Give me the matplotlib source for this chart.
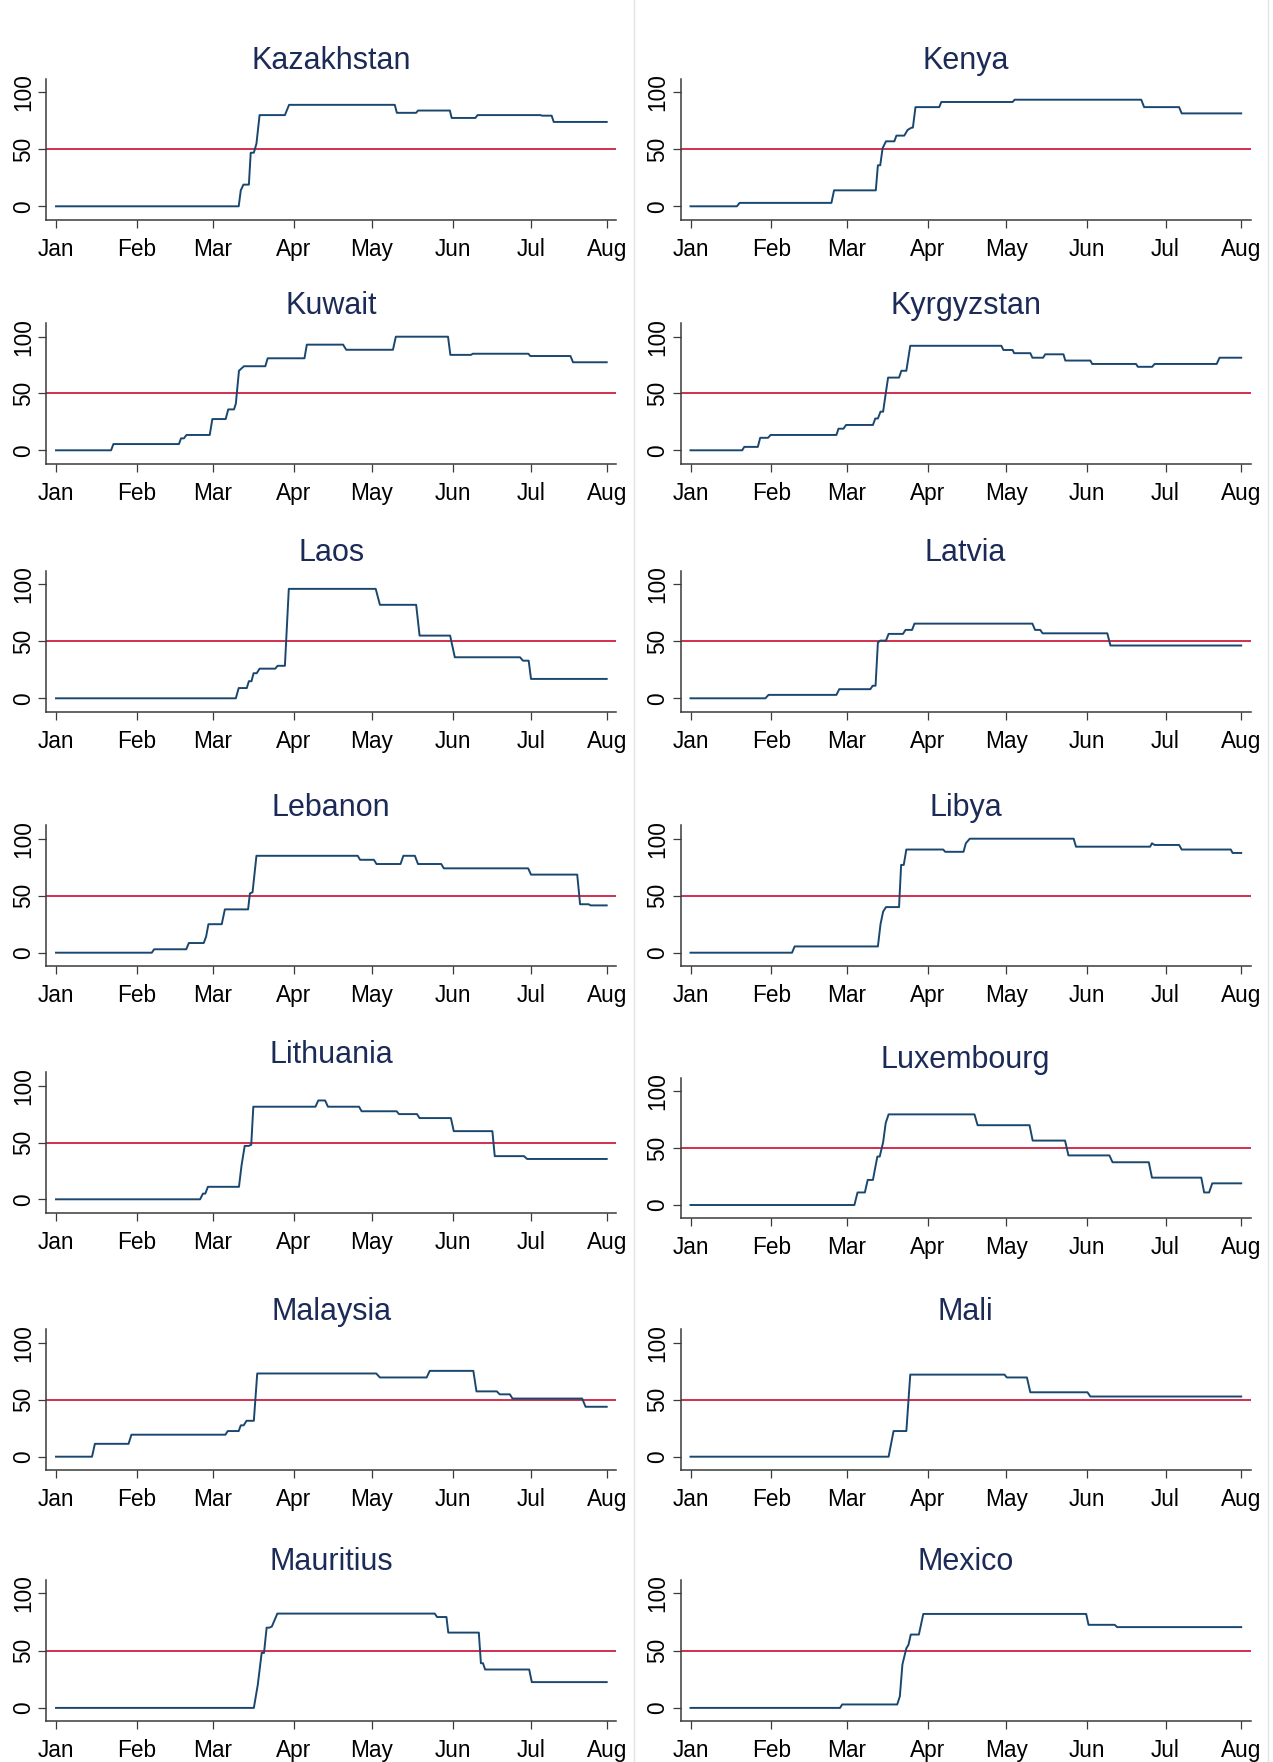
import numpy as np
import matplotlib
matplotlib.use("Agg")
import matplotlib.pyplot as plt
from matplotlib.lines import Line2D

plt.rcParams['font.family'] = ['Liberation Sans', 'DejaVu Sans']

# day offsets from 1 Jan 2020 and index values (vertices)
kaz_days = [0, 70.0, 70.8, 71.8, 73.9, 74.6, 75.8, 76.8, 78.0, 87.7, 89.3, 129.8, 130.6, 138.0, 138.7, 150.9, 151.6, 160.7, 161.5, 185.6, 186.2, 189.9, 190.7, 211]
kaz_vals = [0, 0, 14, 19, 19, 47, 47, 55, 80, 80, 89, 89, 82, 82, 84, 84, 77.5, 77.5, 80, 80, 79.5, 79.5, 74, 74]

ken_days = [0, 17.8, 18.8, 54.0, 55.0, 71.0, 71.8, 72.7, 73.6, 74.9, 78.1, 78.9, 81.9, 83.2, 84.7, 85.2, 86.2, 95.3, 96.1, 123.4, 124.2, 172.7, 173.8, 187.2, 188.2, 211]
ken_vals = [0, 0, 3, 3, 14, 14, 36, 36, 51, 57, 57, 62, 62, 67, 69, 69, 87, 87, 91.5, 91.5, 93.5, 93.5, 87, 87, 81.5, 81.5]

kuw_days = [0, 21.1, 22.0, 47.1, 47.9, 49.0, 50.0, 58.9, 59.9, 65.0, 66.0, 68.2, 68.9, 70.1, 72.0, 80.2, 81.1, 95.2, 96.1, 110.0, 111.2, 129.1, 130.2, 150.2, 151.1, 159.0, 159.7, 181.0, 181.7, 197.1, 198.1, 211]
kuw_vals = [0, 0, 5.5, 5.5, 10.5, 10.5, 13.5, 13.5, 27.5, 27.5, 36, 36, 41, 70, 74, 74, 81, 81, 93, 93, 88.5, 88.5, 100, 100, 84, 84, 85, 85, 83, 83, 77.5, 77.5]

kgz_days = [0, 19.8, 20.6, 25.8, 26.7, 29.7, 30.7, 55.9, 56.7, 58.6, 59.6, 69.9, 70.8, 71.8, 72.8, 73.8, 74.8, 75.7, 79.9, 80.8, 82.7, 84.2, 119.1, 119.9, 123.4, 124.0, 130.2, 131.0, 135.1, 135.9, 142.9, 143.6, 153.2, 153.9, 170.7, 171.4, 176.9, 177.8, 201.6, 202.7, 211]
kgz_vals = [0, 0, 3, 3, 11, 11, 13.5, 13.5, 19, 19, 22.3, 22.3, 28, 28, 34, 34, 50, 64, 64, 70, 70, 92, 92, 88.3, 88.3, 85.5, 85.5, 81.5, 81.5, 84.5, 84.5, 79, 79, 76, 76, 73.5, 73.5, 76, 76, 81.5, 81.5]

lao_days = [0, 68.9, 70.0, 73.1, 73.9, 74.9, 75.7, 76.9, 78.0, 84.0, 84.9, 87.7, 89.2, 122.5, 124.1, 138.0, 139.3, 151.0, 152.8, 177.8, 178.9, 181.1, 182.0, 211]
lao_vals = [0, 0, 9, 9, 15, 15, 22, 22, 26, 26, 28.5, 28.5, 96, 96, 82, 82, 55, 55, 36, 36, 33, 33, 17, 17]

lva_days = [0, 28.7, 29.9, 55.9, 57.0, 68.9, 69.8, 70.9, 71.8, 72.7, 74.9, 75.9, 81.4, 82.4, 84.9, 85.8, 131.0, 132.0, 134.0, 134.9, 159.7, 160.9, 211]
lva_vals = [0, 0, 3, 3, 8, 8, 11, 11, 49, 50.6, 50.6, 56.5, 56.5, 60, 60, 65.5, 65.5, 60, 60, 57, 57, 46.3, 46.3]

lbn_days = [0, 36.7, 37.6, 49.9, 50.9, 56.6, 57.5, 58.4, 63.5, 64.7, 73.6, 74.3, 75.3, 76.8, 115.6, 116.5, 121.8, 122.8, 132.0, 133.1, 137.5, 138.7, 147.6, 148.6, 180.9, 182.0, 199.7, 200.8, 204.1, 204.8, 211]
lbn_vals = [0, 0, 3, 3, 8.5, 8.5, 14, 25, 25, 38, 38, 52, 53, 85, 85, 81.5, 81.5, 77.8, 77.8, 85, 85, 77.8, 77.8, 74, 74, 68.5, 68.5, 42.5, 42.5, 41.5, 41.5]

lby_days = [0, 38.9, 39.9, 71.8, 72.8, 73.8, 74.9, 79.9, 80.7, 81.7, 82.7, 96.8, 97.6, 104.6, 105.5, 107.0, 146.8, 147.7, 176.1, 176.8, 177.8, 187.2, 188.2, 207.0, 207.7, 211]
lby_vals = [0, 0, 5.5, 5.5, 25, 36, 40, 40, 77, 77, 90.5, 90.5, 88.5, 88.5, 96, 100, 100, 93, 93, 96, 94.5, 94.5, 90.5, 90.5, 87.5, 87.5]

ltu_days = [0, 55.2, 56.3, 57.2, 58.2, 70.1, 71.1, 72.3, 73.8, 74.8, 75.6, 99.4, 100.5, 103.1, 104.2, 116.1, 117.1, 130.5, 131.4, 138.3, 139.3, 151.3, 152.4, 167.2, 168.1, 179.3, 180.5, 211]
ltu_vals = [0, 0, 5, 5, 11, 11, 30, 47, 47, 48, 81.5, 81.5, 87, 87, 81.5, 81.5, 77.5, 77.5, 75, 75, 71.5, 71.5, 60, 60, 38, 38, 35.5, 35.5]

lux_days = [0, 62.8, 64.0, 66.8, 67.9, 69.9, 70.8, 71.6, 72.5, 73.8, 74.8, 75.9, 108.8, 110.0, 129.9, 131.1, 143.5, 144.8, 160.5, 161.7, 175.6, 176.8, 195.7, 196.8, 198.7, 199.9, 211]
lux_vals = [0, 0, 11, 11, 22, 22, 33, 42.5, 42.5, 55, 72, 79.5, 79.5, 70, 70, 56.5, 56.5, 43.5, 43.5, 37.5, 37.5, 24, 24, 11, 11, 19, 19]

mys_days = [0, 13.8, 14.9, 27.8, 28.9, 64.9, 65.8, 70.0, 70.8, 71.9, 73.0, 75.8, 77.1, 122.7, 124.1, 142.0, 143.2, 159.9, 161.1, 168.9, 170.0, 173.9, 174.9, 201.6, 202.9, 211]
mys_vals = [0, 0, 11.3, 11.3, 19.3, 19.3, 22.5, 22.5, 27.5, 27.5, 31.5, 31.5, 73, 73, 69.5, 69.5, 75.3, 75.3, 57.3, 57.3, 54.7, 54.7, 51, 51, 43.8, 43.8]

mli_days = [0, 75.9, 77.8, 82.7, 84.2, 120.3, 121.2, 128.9, 130.2, 152.1, 153.2, 211]
mli_vals = [0, 0, 22.5, 22.5, 72, 72, 69.5, 69.5, 56.5, 56.5, 52.8, 52.8]

mus_days = [0, 75.8, 77.3, 78.8, 79.7, 80.7, 81.7, 82.7, 84.8, 145.1, 146.0, 149.6, 150.3, 162.0, 162.8, 163.6, 164.4, 181.3, 182.3, 211]
mus_vals = [0, 0, 20, 48, 48, 70, 70, 71, 82.3, 82.3, 79.3, 79.3, 65.7, 65.7, 39, 39, 33.5, 33.5, 22.5, 22.5]

mex_days = [0, 57.3, 58.1, 79.2, 80.2, 81.2, 82.7, 83.5, 84.4, 87.5, 89.2, 151.6, 152.5, 162.5, 163.5, 211]
mex_vals = [0, 0, 3, 3, 10, 38, 52, 55, 64, 64, 82, 82, 72.5, 72.5, 70.5, 70.5]

countries = ['Kazakhstan', 'Kenya', 'Kuwait', 'Kyrgyzstan', 'Laos', 'Latvia', 'Lebanon',
             'Libya', 'Lithuania', 'Luxembourg', 'Malaysia', 'Mali', 'Mauritius', 'Mexico']
series = [(kaz_days, kaz_vals), (ken_days, ken_vals), (kuw_days, kuw_vals), (kgz_days, kgz_vals),
          (lao_days, lao_vals), (lva_days, lva_vals), (lbn_days, lbn_vals), (lby_days, lby_vals),
          (ltu_days, ltu_vals), (lux_days, lux_vals), (mys_days, mys_vals), (mli_days, mli_vals),
          (mus_days, mus_vals), (mex_days, mex_vals)]

# month ticks: 1st of Jan..Jul, last label sits on the final data day
month_labels = ['Jan', 'Feb', 'Mar', 'Apr', 'May', 'Jun', 'Jul', 'Aug']
month_pos = list((np.arange('2020-01', '2020-08', dtype='datetime64[M]').astype('datetime64[D]')
                  - np.datetime64('2020-01-01')).astype(float)) + [211]
threshold = 50

# panel placement in pixels: x of Jan tick per column, y of value 0 and 100 per panel
W, H = 1273, 1762
col_x = [56.0, 690.5]
px_per_day = 2.61
panel_y = [(206.3, 92.3), (206.3, 92.3), (450.3, 336.7), (450.3, 336.7),
           (698.3, 584.3), (698.3, 584.3), (952.7, 838.7), (952.7, 838.7),
           (1199.3, 1085.7), (1205.0, 1091.0), (1456.7, 1342.7), (1456.7, 1342.7),
           (1707.9, 1593.3), (1707.9, 1593.3)]
xlo, xhi = -3.8, 214.6
ylo, yhi = -11.7, 111.7

navy = '#1a476f'
title_col = '#1b2a57'
red = '#cf1f40'
axis_col = '#3a3a3a'

fig = plt.figure(figsize=(W / 100, H / 100), dpi=100)
fig.patch.set_facecolor('white')

for i, (name, (d, v)) in enumerate(zip(countries, series)):
    col = i % 2
    y0, y100 = panel_y[i]
    ppu = (y0 - y100) / 100
    left = col_x[col] + xlo * px_per_day
    width = (xhi - xlo) * px_per_day
    top = y0 - yhi * ppu
    height = (yhi - ylo) * ppu
    ax = fig.add_axes([left / W, 1 - (top + height) / H, width / W, height / H])

    ax.axhline(threshold, color=red, lw=1.3, zorder=1)
    ax.plot(d, v, color=navy, lw=1.4, zorder=2)

    ax.set_xlim(xlo, xhi)
    ax.set_ylim(ylo, yhi)
    ax.set_xticks(month_pos)
    ax.set_xticklabels(month_labels)
    ax.set_yticks([0, 50, 100])
    ax.set_yticklabels(['0', '50', '100'], rotation=90, va='center')
    for s in ['top', 'right']:
        ax.spines[s].set_visible(False)
    for s in ['left', 'bottom']:
        ax.spines[s].set_color(axis_col)
        ax.spines[s].set_linewidth(1.1)
    ax.tick_params(axis='both', length=5.5, width=0.9, color=axis_col, labelsize=16.3, labelcolor='black')
    ax.tick_params(axis='x', pad=7.5)
    ax.tick_params(axis='y', pad=2.5)
    ax.set_title(name, fontsize=22, color=title_col, pad=7)

# faint borders of the combined graph regions
for xp in [634, 1268]:
    fig.add_artist(Line2D([xp / W, xp / W], [0, 1], color='#e3e3e3', lw=1, transform=fig.transFigure))

fig.savefig('out.png', dpi=100)
